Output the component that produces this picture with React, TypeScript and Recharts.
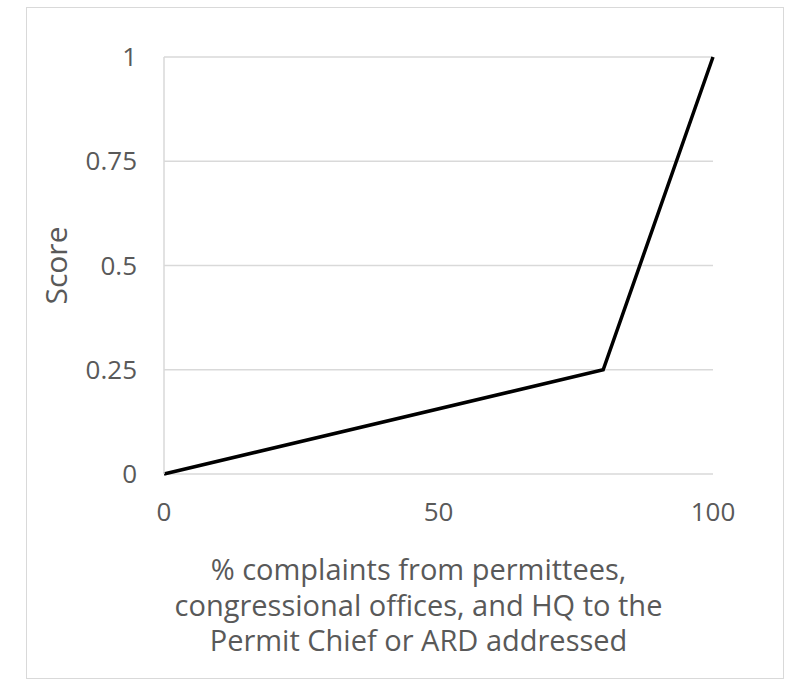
import React from "react";
import {
    LineChart,
    Line,
    XAxis,
    YAxis,
    CartesianGrid,
} from "recharts";

// scoring curve: share of complaints addressed -> score
const pctAddressed = [0, 80, 100];
const scoreValues = [0, 0.25, 1];
const xTicks = [0, 50, 100];
const yTicks = [0, 0.25, 0.5, 0.75, 1];
const xTitleLines = [
    "% complaints from permittees,",
    "congressional offices, and HQ to the",
    "Permit Chief or ARD addressed",
];
const yTitle = "Score";

const data = pctAddressed.map((x, i) => ({ x, score: scoreValues[i] }));

const FONT = "'Open Sans', 'Noto Sans', sans-serif";
const GREY_TEXT = "#595959";
const GRID = "#d9d9d9";

// axis title sits a little left of the plot centre, inside the chart frame
const XTitle = (props: any) => {
    const { viewBox } = props;
    const cx = viewBox.x + viewBox.width / 2 - 20;
    const top = viewBox.y + 106;
    return (
        <text
            x={cx}
            y={top}
            textAnchor="middle"
            fill={GREY_TEXT}
            fontSize={29}
            fontFamily={FONT}
        >
            {xTitleLines.map((line, i) => (
                <tspan key={i} x={cx} dy={i === 0 ? 0 : 35.5}>
                    {line}
                </tspan>
            ))}
        </text>
    );
};

const YTitle = (props: any) => {
    const { viewBox } = props;
    const cx = 55;
    const cy = viewBox.y + viewBox.height / 2;
    return (
        <text
            x={cx}
            y={cy}
            transform={`rotate(-90 ${cx} ${cy})`}
            textAnchor="middle"
            dominantBaseline="central"
            fill={GREY_TEXT}
            fontSize={30}
            fontFamily={FONT}
        >
            {yTitle}
        </text>
    );
};

const App = () => {
    return (
        <div style={{ position: "absolute", left: 0, top: 0, width: 787, height: 681, background: "#fff" }}>
            <div
                style={{
                    position: "absolute",
                    left: 26,
                    top: 7,
                    width: 756,
                    height: 670,
                    border: "1px solid #d9d9d9",
                }}
            />
            <LineChart
                width={787}
                height={681}
                data={data}
                margin={{ top: 57, right: 74, left: 0, bottom: 0 }}
                style={{ position: "absolute", left: 0, top: 0 }}
            >
                <CartesianGrid horizontal vertical={false} stroke={GRID} strokeWidth={1.5} />
                <XAxis
                    dataKey="x"
                    type="number"
                    domain={[0, 100]}
                    ticks={xTicks}
                    height={207}
                    axisLine={false}
                    tickLine={false}
                    tickSize={0}
                    tickMargin={29}
                    tick={{ fill: GREY_TEXT, fontSize: 26, fontFamily: FONT }}
                    label={<XTitle />}
                />
                <YAxis
                    type="number"
                    domain={[0, 1]}
                    ticks={yTicks}
                    width={164}
                    axisLine={{ stroke: GRID, strokeWidth: 1.5 }}
                    tickLine={false}
                    tickSize={0}
                    tickMargin={27}
                    tick={{ fill: GREY_TEXT, fontSize: 26, fontFamily: FONT }}
                    label={<YTitle />}
                />
                <Line
                    type="linear"
                    dataKey="score"
                    stroke="#000"
                    strokeWidth={3.5}
                    dot={false}
                    isAnimationActive={false}
                />
            </LineChart>
        </div>
    );
};

export default App;
